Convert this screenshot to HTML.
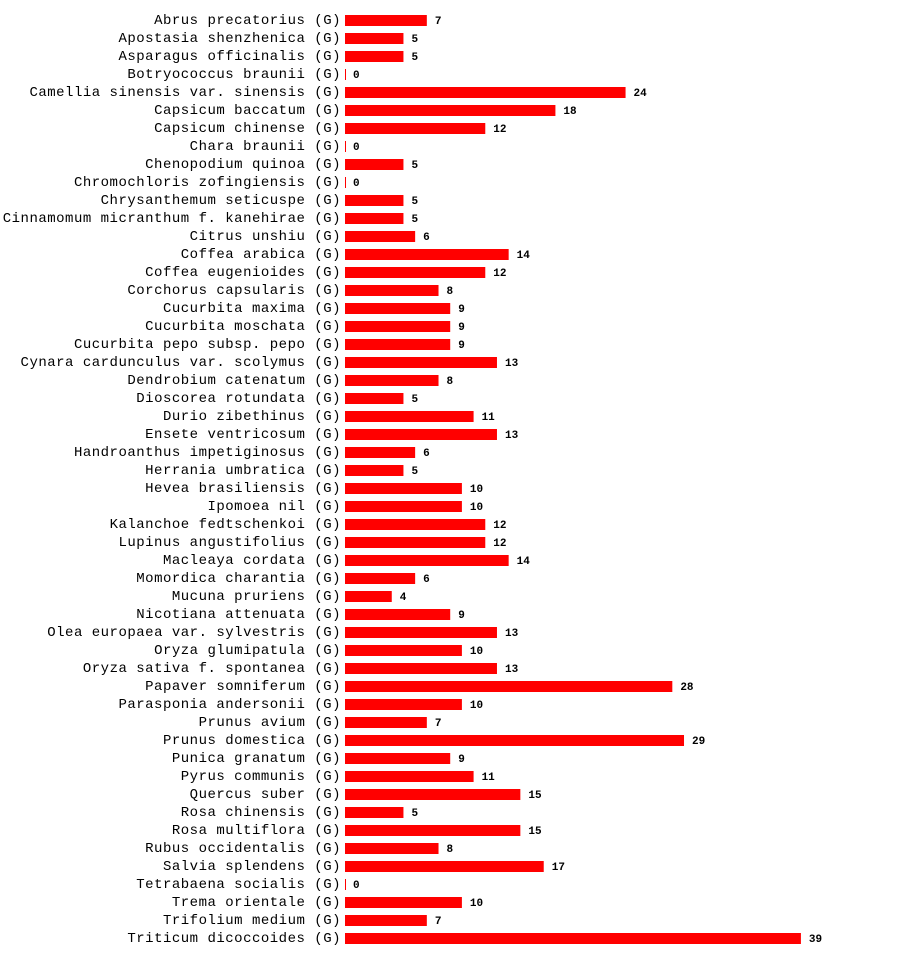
<!DOCTYPE html>
<html><head><meta charset="utf-8"><style>
html,body{margin:0;padding:0;background:#fff;}
svg{display:block}
.l{font-family:"Liberation Mono",monospace;font-size:14px;letter-spacing:0.5px;text-anchor:end;fill:#000}
.v{font-family:"Liberation Mono",monospace;font-size:11px;font-weight:bold;fill:#000}
</style></head><body>
<svg id="c" width="900" height="956" xmlns="http://www.w3.org/2000/svg"></svg>
<script>
const d=[["Abrus precatorius",7],["Apostasia shenzhenica",5],["Asparagus officinalis",5],["Botryococcus braunii",0],["Camellia sinensis var. sinensis",24],["Capsicum baccatum",18],["Capsicum chinense",12],["Chara braunii",0],["Chenopodium quinoa",5],["Chromochloris zofingiensis",0],["Chrysanthemum seticuspe",5],["Cinnamomum micranthum f. kanehirae",5],["Citrus unshiu",6],["Coffea arabica",14],["Coffea eugenioides",12],["Corchorus capsularis",8],["Cucurbita maxima",9],["Cucurbita moschata",9],["Cucurbita pepo subsp. pepo",9],["Cynara cardunculus var. scolymus",13],["Dendrobium catenatum",8],["Dioscorea rotundata",5],["Durio zibethinus",11],["Ensete ventricosum",13],["Handroanthus impetiginosus",6],["Herrania umbratica",5],["Hevea brasiliensis",10],["Ipomoea nil",10],["Kalanchoe fedtschenkoi",12],["Lupinus angustifolius",12],["Macleaya cordata",14],["Momordica charantia",6],["Mucuna pruriens",4],["Nicotiana attenuata",9],["Olea europaea var. sylvestris",13],["Oryza glumipatula",10],["Oryza sativa f. spontanea",13],["Papaver somniferum",28],["Parasponia andersonii",10],["Prunus avium",7],["Prunus domestica",29],["Punica granatum",9],["Pyrus communis",11],["Quercus suber",15],["Rosa chinensis",5],["Rosa multiflora",15],["Rubus occidentalis",8],["Salvia splendens",17],["Tetrabaena socialis",0],["Trema orientale",10],["Trifolium medium",7],["Triticum dicoccoides",39]];
let s="";
d.forEach((r,i)=>{const c=20+18*i;const w=r[1]*11.69;
s+=`<text class="l" x="341" y="${c+4}">${r[0]} (G)</text>`;
s+=`<rect x="345" y="${c-5}" width="${Math.max(w,1)}" height="11" fill="#ff0000"/>`;
s+=`<text class="v" x="${345+w+8}" y="${c+4}">${r[1]}</text>`;});
document.getElementById("c").innerHTML=s;
</script>
</body></html>
